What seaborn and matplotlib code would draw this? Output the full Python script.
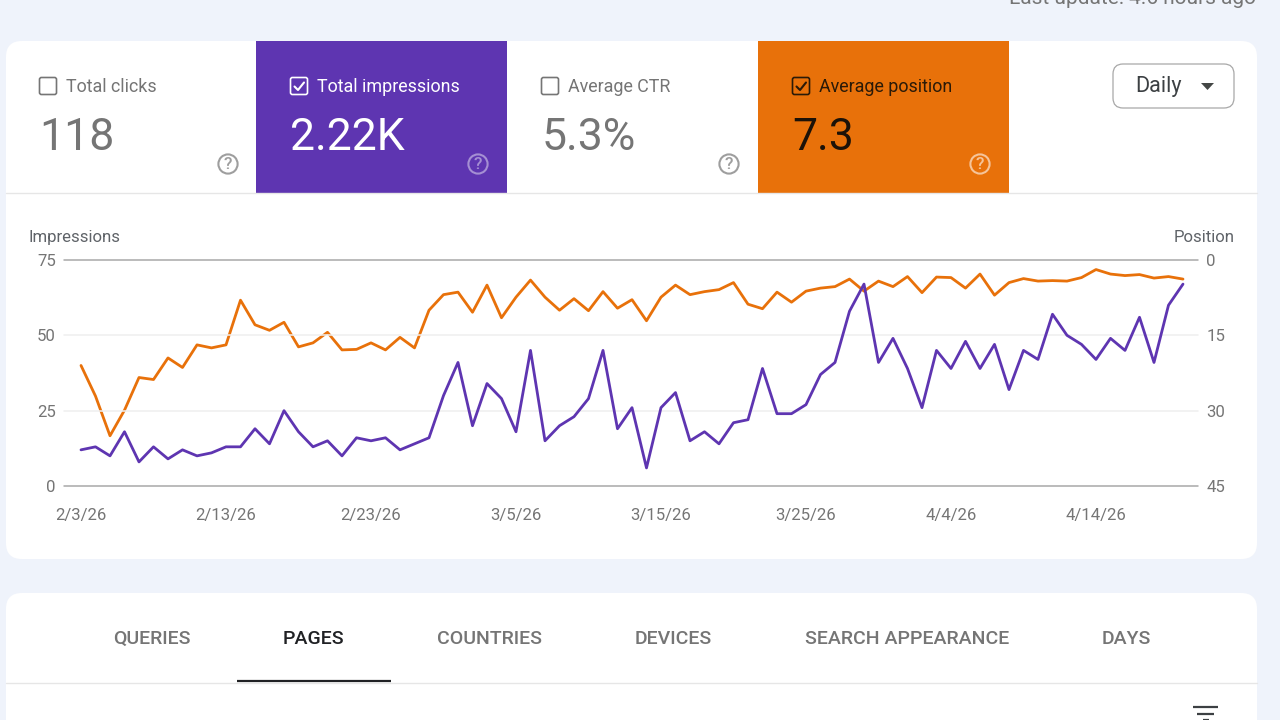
# Search Console performance card: impressions vs average position

import pandas as pd
import matplotlib.pyplot as plt
import seaborn as sns
from matplotlib.patches import Rectangle, FancyBboxPatch, Circle, Polygon

impressions = [12, 13, 10, 18, 8, 13, 9, 12, 10, 11, 13, 13, 19, 14, 25, 18, 13, 15, 10, 16,
               15, 16, 12, 14, 16, 30, 41, 20, 34, 29, 18, 45, 15, 20, 23, 29, 45, 19, 26, 6,
               26, 31, 15, 18, 14, 21, 22, 39, 24, 24, 27, 37, 41, 58, 67, 41, 49, 39, 26, 45,
               39, 48, 39, 47, 32, 45, 42, 57, 50, 47, 42, 49, 45, 56, 41, 60, 67]
position = [21.0, 27.1, 35.0, 29.9, 23.4, 23.8, 19.5, 21.4, 16.9, 17.5, 16.9, 8.0, 12.9, 14.0,
            12.4, 17.3, 16.5, 14.4, 17.9, 17.8, 16.5, 17.9, 15.4, 17.5, 10.0, 6.9, 6.4, 10.4,
            5.0, 11.5, 7.4, 4.0, 7.4, 10.0, 7.7, 10.1, 6.3, 9.6, 7.9, 12.1, 7.4, 5.0, 6.9, 6.3,
            5.9, 4.5, 8.8, 9.7, 6.4, 8.4, 6.2, 5.6, 5.3, 3.8, 6.2, 4.2, 5.3, 3.3, 6.5, 3.4,
            3.5, 5.6, 2.8, 7.0, 4.5, 3.7, 4.2, 4.1, 4.2, 3.5, 1.9, 2.8, 3.1, 2.9, 3.6, 3.3, 3.8]
date_ticks = ["2026-02-03", "2026-02-13", "2026-02-23", "2026-03-05",
              "2026-03-15", "2026-03-25", "2026-04-04", "2026-04-14"]
date_labels = ["2/3/26", "2/13/26", "2/23/26", "3/5/26", "3/15/26", "3/25/26", "4/4/26", "4/14/26"]
impression_ticks = [0, 25, 50, 75]
position_ticks = [0, 15, 30, 45]
tile_names = ["Total clicks", "Total impressions", "Average CTR", "Average position"]
tile_values = ["118", "2.22K", "5.3%", "7.3"]
tab_names = ["QUERIES", "PAGES", "COUNTRIES", "DEVICES", "SEARCH APPEARANCE", "DAYS"]

PURPLE = "#5e35b1"
ORANGE = "#e8710a"
PAGE = "#eff3fb"
GREY = "#757575"

sns.set_theme(style="white")
plt.rcParams['font.family'] = ['Roboto', 'DejaVu Sans']

df = pd.DataFrame({
    "date": pd.date_range("2026-02-03", periods=len(impressions), freq="D"),
    "impressions": impressions,
    "position": position,
})

W, H = 1280, 720
fig = plt.figure(figsize=(12.8, 7.2), dpi=100, facecolor=PAGE)

# === page furniture, drawn in pixel coordinates ===
bg = fig.add_axes([0, 0, 1, 1], zorder=0)
bg.set_xlim(0, W)
bg.set_ylim(H, 0)
bg.axis("off")


def card(x0, y0, x1, y1, r=16):
    bg.add_patch(FancyBboxPatch((x0 + r, y0 + r), x1 - x0 - 2 * r, y1 - y0 - 2 * r,
                                boxstyle=f"round,pad={r},rounding_size={r}",
                                fc="white", ec="none", clip_on=True))


card(6, 41, 1257, 559)
card(6, 593, 1257, 760)

# cut by the top of the page in the original too
bg.text(1256, -1, "Last update: 4.6 hours ago", ha="right", va="center", fontsize=15, color=GREY)

tile_x = [6, 256, 507, 758]
tile_w = [250, 251, 251, 251]
tile_fill = [None, PURPLE, None, ORANGE]
tile_text = [GREY, "white", GREY, "#1c1208"]
tile_label = ["#757575", "white", "#757575", "#2a1a08"]
tile_help = ["#9e9e9e", "#a58fd3", "#9e9e9e", "#f5c49a"]
box_left = [39.5, 290.5, 541.5, 792.5]
bg.plot([6, 1257], [193, 193], color="#e6e6e6", lw=1)

for i, name in enumerate(tile_names):
    if tile_fill[i]:
        bg.add_patch(Rectangle((tile_x[i], 41), tile_w[i], 152.5, fc=tile_fill[i], ec="none"))
    bx = box_left[i]
    bg.add_patch(FancyBboxPatch((bx + 2, 79.5), 13, 13, boxstyle="round,pad=2,rounding_size=2",
                                fc="none", ec=tile_label[i], lw=1.2))
    if tile_fill[i]:
        bg.plot([bx + 4, bx + 7.5, bx + 13.5], [86.5, 90, 82.5], color=tile_label[i], lw=1.5)
    bg.text(bx + 26.5, 92, name, va="baseline", fontsize=12.9, color=tile_label[i])
    bg.text(bx + 0, 149.5, tile_values[i], va="baseline", fontsize=32, color=tile_text[i])
    hx = tile_x[i] + 222
    bg.add_patch(Circle((hx, 164), 9.6, fc="none", ec=tile_help[i], lw=1.5))
    bg.text(hx, 164.5, "?", ha="center", va="center", fontsize=12.5, color=tile_help[i],
            fontweight="medium")

# dropdown
bg.add_patch(FancyBboxPatch((1121, 72), 105, 28, boxstyle="round,pad=8,rounding_size=10",
                            fc="white", ec="#a8a8a8", lw=0.9))
bg.text(1135, 92, "Daily", va="baseline", fontsize=15.5, color="#3c4043")
bg.add_patch(Polygon([[1201, 83], [1214, 83], [1207.5, 90]], fc="#444746", ec="none"))

bg.text(28, 242, "Impressions", va="baseline", fontsize=12.1, color="#5f6368")
bg.text(1234.5, 242, "Position", ha="right", va="baseline", fontsize=12.1, color="#5f6368")

# tabs
tab_x = [151.5, 313.5, 489, 673, 907, 1126]
for i, name in enumerate(tab_names):
    bg.text(tab_x[i], 638.5, name, ha="center", va="center", fontsize=14, fontweight="medium",
            color="#202124" if name == "PAGES" else GREY)
bg.plot([6, 1257], [683, 683], color="#e6e6e6", lw=1)
bg.plot([237, 391], [681, 681], color="#202124", lw=1.6, solid_capstyle="butt")

# filter icon, runs off the bottom of the page
bg.plot([1193, 1218], [707, 707], color="#3c4043", lw=1.6, solid_capstyle="butt")
bg.plot([1197, 1214], [714, 714], color="#3c4043", lw=1.6, solid_capstyle="butt")
bg.plot([1203, 1209], [720, 720], color="#3c4043", lw=1.6, solid_capstyle="butt")

# === chart ===
ax = fig.add_axes([64 / W, 1 - 486 / H, (1198 - 64) / W, (486 - 260) / H], zorder=3)
ax.patch.set_visible(False)
ax2 = ax.twinx()
ax2.set_zorder(2)
ax2.patch.set_visible(False)

sns.lineplot(data=df, x="date", y="position", ax=ax2, color=ORANGE, linewidth=2, errorbar=None)
sns.lineplot(data=df, x="date", y="impressions", ax=ax, color=PURPLE, linewidth=2, errorbar=None)

pad = pd.Timedelta(days=17 / 14.5)
ax.set_xlim(df["date"].iloc[0] - pad, df["date"].iloc[0] + pd.Timedelta(days=(1198 - 81) / 14.5))
ax.set_ylim(impression_ticks[0], impression_ticks[-1])
ax2.set_ylim(position_ticks[-1], position_ticks[0])

ax.set_xlabel("")
ax.set_ylabel("")
ax2.set_ylabel("")
ax.set_xticks(pd.to_datetime(date_ticks))
ax.set_xticklabels(date_labels)
ax.set_yticks(impression_ticks)
ax2.set_yticks(position_ticks)

for a in (ax, ax2):
    for s in a.spines.values():
        s.set_visible(False)
    a.tick_params(axis="both", length=0, labelsize=12.1, labelcolor=GREY)
ax.tick_params(axis="x", pad=16)
ax.tick_params(axis="y", pad=6)
ax2.tick_params(axis="y", pad=6)

# major lines at top and bottom, faint ones between
ax.grid(False)
ax2.grid(False)
for v in impression_ticks:
    strong = v in (impression_ticks[0], impression_ticks[-1])
    ax.axhline(v, color="#a8a8a8" if strong else "#efefef", lw=1.1, zorder=0, clip_on=False)

fig.savefig("out.png", dpi=100, facecolor=PAGE)
plt.close(fig)
